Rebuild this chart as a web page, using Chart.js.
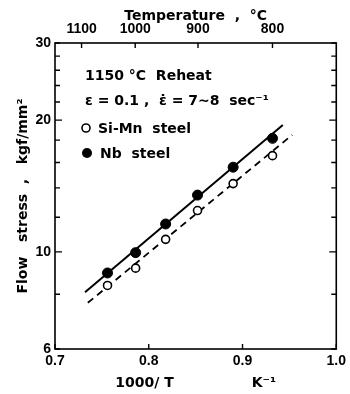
<!DOCTYPE html>
<html>
<head>
<meta charset="utf-8">
<script src="https://cdn.jsdelivr.net/npm/chart.js@4"></script>
<style>
  body { margin: 0; background: #fff; }
  canvas { display: block; }
</style>
</head>
<body>
<canvas id="flowChart" width="350" height="394"></canvas>
<script>
// --- data ---
const invTemp = [0.756, 0.786, 0.818, 0.852, 0.890, 0.932];   // 1000/T, K^-1
const siMnStress = [8.38, 9.18, 10.68, 12.43, 14.32, 16.59];   // kgf/mm2, open circles
const nbStress = [8.95, 9.96, 11.58, 13.48, 15.61, 18.17];     // kgf/mm2, filled circles

// fitted lines (end points)
const nbFitX = [0.732, 0.943];
const nbFitY = [8.09, 19.5];
const siMnFitX = [0.735, 0.953];
const siMnFitY = [7.65, 18.5];

// axes
const xTickValues = [0.7, 0.8, 0.9, 1.0];
const yTickValues = [6, 8, 10, 12, 14, 16, 18, 20, 22, 24, 26, 28, 30];
const yLabelValues = [6, 10, 20, 30];
const tempTickLabels = [1100, 1000, 900, 800];   // top axis, deg C

const tickFont = { family: 'Liberation Sans', size: 14, weight: 'bold' };
const titleFont = { family: 'DejaVu Sans', size: 14, weight: 'bold' };

const toPoints = (xs, ys) => xs.map((x, i) => ({ x: x, y: ys[i] }));

// inward ticks, frame and the notes inside the plot
const framePlugin = {
    id: 'frame',
    afterDraw(chart) {
        const ctx = chart.ctx;
        const a = chart.chartArea;
        const sx = chart.scales.x, sx2 = chart.scales.x2, sy = chart.scales.y;
        ctx.save();
        ctx.strokeStyle = '#000';
        ctx.lineWidth = 1.6;
        ctx.strokeRect(a.left, a.top, a.right - a.left, a.bottom - a.top);

        ctx.lineWidth = 1.4;
        ctx.beginPath();
        yTickValues.forEach(v => {
            const py = sy.getPixelForValue(v);
            const len = (v === 10 || v === 20) ? 7 : 5;
            ctx.moveTo(a.left, py); ctx.lineTo(a.left + len, py);
            ctx.moveTo(a.right, py); ctx.lineTo(a.right - len, py);
        });
        xTickValues.forEach(v => {
            const px = sx.getPixelForValue(v);
            ctx.moveTo(px, a.bottom); ctx.lineTo(px, a.bottom - 5);
        });
        sx2.ticks.forEach(t => {
            const px = sx2.getPixelForValue(t.value);
            ctx.moveTo(px, a.top); ctx.lineTo(px, a.top + 5);
        });
        ctx.stroke();

        // notes
        ctx.fillStyle = '#000';
        ctx.textBaseline = 'alphabetic';
        ctx.textAlign = 'left';
        ctx.font = 'bold 14px "DejaVu Sans"';
        ctx.fillText('1150 °C  Reheat', a.left + 30, a.top + 37);
        ctx.fillText('ε = 0.1 ,  ε̇ = 7~8  sec⁻¹', a.left + 30, a.top + 62);

        // legend
        ctx.lineWidth = 1.6;
        ctx.beginPath();
        ctx.arc(a.left + 31, a.top + 85, 4, 0, Math.PI * 2);
        ctx.fillStyle = '#fff';
        ctx.fill();
        ctx.stroke();
        ctx.beginPath();
        ctx.arc(a.left + 32, a.top + 110, 5, 0, Math.PI * 2);
        ctx.fillStyle = '#000';
        ctx.fill();
        ctx.fillText('Si-Mn  steel', a.left + 43, a.top + 90);
        ctx.fillText('Nb  steel', a.left + 45, a.top + 115);
        ctx.restore();
    }
};

const ctx = document.getElementById('flowChart').getContext('2d');
new Chart(ctx, {
    type: 'scatter',
    data: {
        datasets: [
            {
                label: 'Si-Mn steel',
                data: toPoints(invTemp, siMnStress),
                pointStyle: 'circle',
                pointRadius: 4,
                pointBorderWidth: 1.6,
                pointBackgroundColor: '#fff',
                pointBorderColor: '#000',
                order: 0
            },
            {
                label: 'Nb steel',
                data: toPoints(invTemp, nbStress),
                pointStyle: 'circle',
                pointRadius: 5,
                pointBorderWidth: 1,
                pointBackgroundColor: '#000',
                pointBorderColor: '#000',
                order: 0
            },
            {
                label: 'Nb fit',
                data: toPoints(nbFitX, nbFitY),
                showLine: true,
                pointRadius: 0,
                borderColor: '#000',
                borderWidth: 2,
                order: 1
            },
            {
                label: 'Si-Mn fit',
                data: toPoints(siMnFitX, siMnFitY),
                showLine: true,
                pointRadius: 0,
                borderColor: '#000',
                borderWidth: 1.8,
                borderDash: [7, 5],
                order: 1
            }
        ]
    },
    options: {
        responsive: false,
        animation: false,
        devicePixelRatio: 1,
        layout: { padding: 0 },
        plugins: {
            legend: { display: false },
            tooltip: { enabled: false }
        },
        scales: {
            x: {
                type: 'linear',
                position: 'bottom',
                min: 0.7,
                max: 1.0,
                afterBuildTicks: s => { s.ticks = xTickValues.map(v => ({ value: v })); },
                afterFit: s => { s.height = 45; },
                grid: { display: false, drawTicks: false },
                border: { display: false },
                ticks: {
                    color: '#000', font: tickFont, padding: 4,
                    maxRotation: 0, autoSkip: false,
                    callback: v => v.toFixed(1)
                },
                title: {
                    display: true, color: '#000', font: titleFont,
                    text: '1000/ T                K⁻¹',
                    padding: { top: 0, bottom: 2 }
                }
            },
            x2: {
                type: 'linear',
                position: 'top',
                min: 0.7,
                max: 1.0,
                afterBuildTicks: s => {
                    s.ticks = tempTickLabels.map(t => ({ value: 1000 / (t + 273) }));
                },
                afterFit: s => { s.height = 43; },
                grid: { display: false, drawTicks: false },
                border: { display: false },
                ticks: {
                    color: '#000', font: tickFont, padding: 5,
                    maxRotation: 0, autoSkip: false,
                    callback: (v, i) => String(tempTickLabels[i])
                },
                title: {
                    display: true, color: '#000', font: titleFont,
                    text: 'Temperature  ,  °C',
                    padding: { top: 8, bottom: 0 }
                }
            },
            y: {
                type: 'logarithmic',
                position: 'left',
                min: 6,
                max: 30,
                afterBuildTicks: s => { s.ticks = yTickValues.map(v => ({ value: v })); },
                afterFit: s => { s.width = 55; },
                grid: { display: false, drawTicks: false },
                border: { display: false },
                ticks: {
                    color: '#000', font: tickFont, padding: 4, autoSkip: false,
                    callback: v => yLabelValues.includes(v) ? String(v) : ''
                },
                title: {
                    display: true, color: '#000', font: titleFont,
                    text: 'Flow   stress  ,   kgf/mm²',
                    padding: { top: 15, bottom: 0 }
                }
            },
            y2: {
                type: 'logarithmic',
                position: 'right',
                min: 6,
                max: 30,
                afterBuildTicks: s => { s.ticks = yTickValues.map(v => ({ value: v })); },
                afterFit: s => { s.width = 10; },
                grid: { display: false, drawTicks: false },
                border: { display: false },
                ticks: { display: false }
            }
        }
    },
    plugins: [framePlugin]
});
</script>
</body>
</html>
